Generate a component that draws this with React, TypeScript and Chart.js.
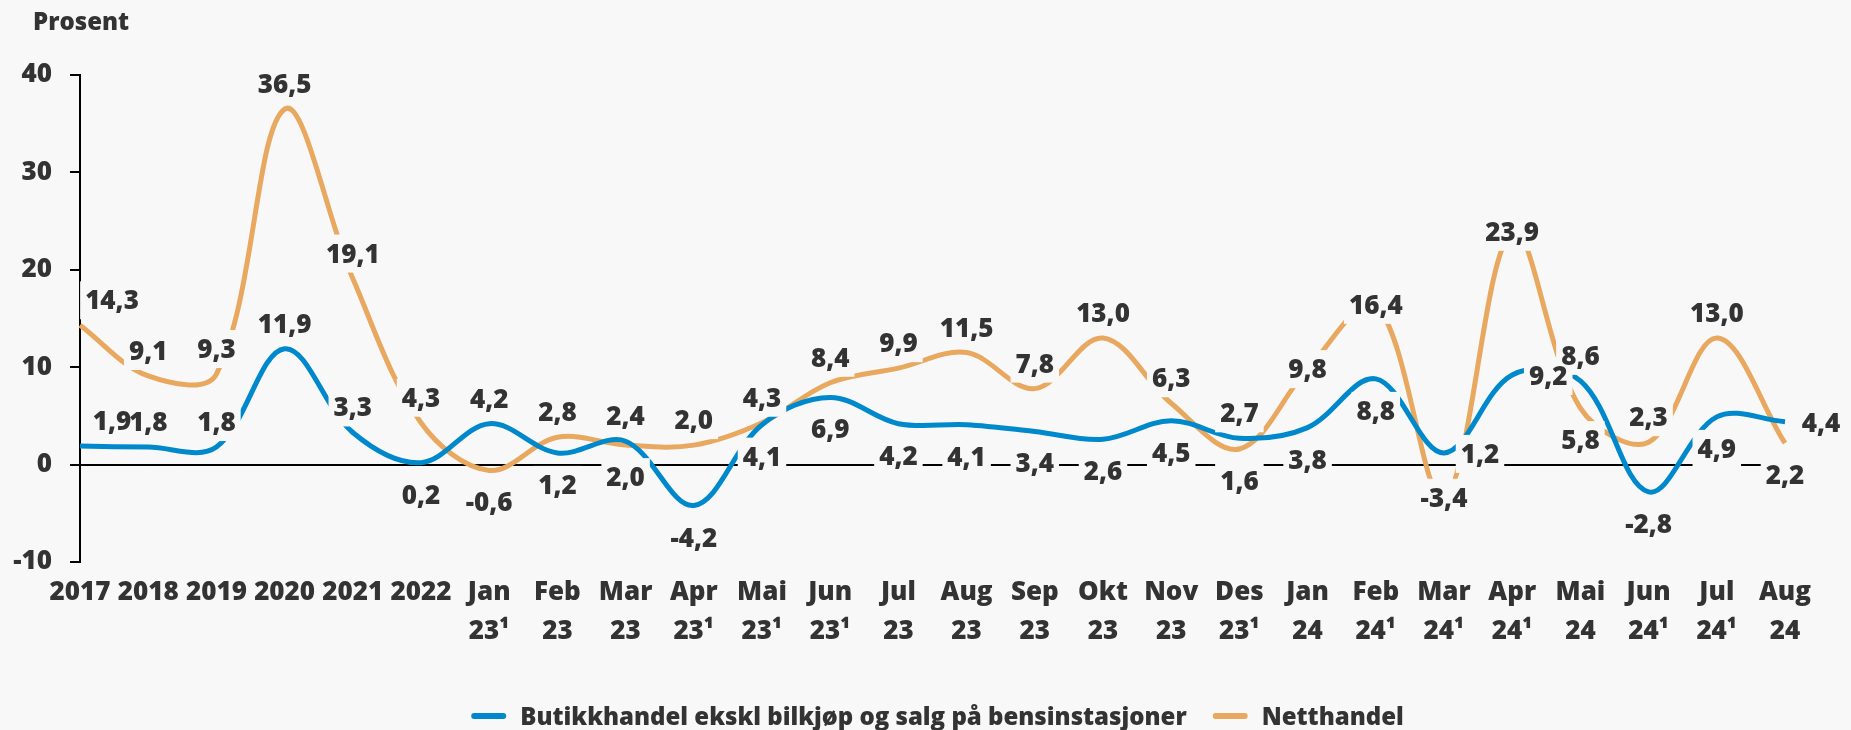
import React, { useEffect, useRef } from 'react';
import { Chart, registerables } from 'chart.js';

Chart.register(...registerables);

const CATEGORIES = ['2017', '2018', '2019', '2020', '2021', '2022', 'Jan 23¹', 'Feb 23', 'Mar 23', 'Apr 23¹', 'Mai 23¹', 'Jun 23¹', 'Jul 23', 'Aug 23', 'Sep 23', 'Okt 23', 'Nov 23', 'Des 23¹', 'Jan 24', 'Feb 24¹', 'Mar 24¹', 'Apr 24¹', 'Mai 24', 'Jun 24¹', 'Jul 24¹', 'Aug 24'];

const BUTIKK = [1.9, 1.8, 1.8, 11.9, 3.3, 0.2, 4.2, 1.2, 2.4, -4.2, 4.1, 6.9, 4.2, 4.1, 3.4, 2.6, 4.5, 2.7, 3.8, 8.8, 1.2, 9.2, 8.6, -2.8, 4.9, 4.4];
const NETT = [14.3, 9.1, 9.3, 36.5, 19.1, 4.3, -0.6, 2.8, 2.0, 2.0, 4.3, 8.4, 9.9, 11.5, 7.8, 13.0, 6.3, 1.6, 9.8, 16.4, -3.4, 23.9, 5.8, 2.3, 13.0, 2.2];

const SERIES_NAMES = ['Butikkhandel ekskl bilkjøp og salg på bensinstasjoner', 'Netthandel'];
const Y_MIN = -10;
const Y_MAX = 40;
const Y_STEP = 10;
const Y_TITLE = 'Prosent';

// label placement (style): t = above, b = below, c = on point, r = right, tr = above-right
const BUTIKK_POS = ['tr', 't', 't', 't', 't', 'b', 't', 'b', 't', 'b', 'b', 'b', 'b', 'b', 'b', 'b', 'b', 't', 'b', 'b', 'r', 'r', 't', 'b', 'b', 'r'];
const NETT_POS = ['tr', 't', 't', 't', 't', 't', 'b', 't', 'b', 't', 't', 't', 't', 't', 't', 't', 't', 'b', 'c', 'c', 'c', 'c', 'b', 't', 't', 'b'];

const BG = '#f8f8f8';
const TEXT = '#333333';
const BLUE = '#0088cc';
const ORANGE = '#e9a85f';
const FONT = '"Open Sans", "Noto Sans", sans-serif';
const FS = 26;
const FW = '800';

const OFFSETS: Record<string, [number, number]> = {
  t: [0, -25],
  b: [0, 32],
  c: [0, 0],
  r: [36, 1],
  tr: [32, -25],
};

const fmt = (v: number) => v.toFixed(1).replace('.', ',');

const decorPlugin = {
  id: 'decor',
  afterDatasetsDraw(chart: any) {
    const ctx = chart.ctx;
    ctx.save();
    ctx.font = `${FW} ${FS}px ${FONT}`;
    ctx.textAlign = 'center';
    ctx.textBaseline = 'alphabetic';
    const sets = [
      { vals: BUTIKK, pos: BUTIKK_POS },
      { vals: NETT, pos: NETT_POS },
    ];
    const items: { x: number; y: number; text: string; w: number }[] = [];
    sets.forEach((s, di) => {
      const meta = chart.getDatasetMeta(di);
      meta.data.forEach((pt: any, i: number) => {
        const [dx, dy] = OFFSETS[s.pos[i]];
        const text = fmt(s.vals[i]);
        const w = ctx.measureText(text).width;
        items.push({ x: pt.x + dx, y: pt.y + dy, text, w });
      });
    });
    ctx.fillStyle = BG;
    items.forEach((it) => ctx.fillRect(it.x - it.w / 2 - 5, it.y - 19, it.w + 10, 38));
    ctx.fillStyle = TEXT;
    items.forEach((it) => ctx.fillText(it.text, it.x, it.y + 9));
    ctx.restore();
  },
  afterDraw(chart: any) {
    const ctx = chart.ctx;
    ctx.save();
    ctx.font = `${FW} ${FS - 2}px ${FONT}`;
    ctx.fillStyle = TEXT;
    ctx.textAlign = 'left';
    ctx.textBaseline = 'alphabetic';
    ctx.fillText(Y_TITLE, 33, 30);

    // legend
    ctx.font = `${FW} ${FS - 2}px ${FONT}`;
    const sw = 35;
    const gap = 14;
    const between = 26;
    const colors = [BLUE, ORANGE];
    const widths = SERIES_NAMES.map((n) => ctx.measureText(n).width);
    const total = widths.reduce((a, w) => a + sw + gap + w, 0) + between;
    const area = chart.chartArea;
    let x = (area.left + area.right) / 2 - total / 2 + 5;
    const yc = 716;
    SERIES_NAMES.forEach((n, i) => {
      ctx.strokeStyle = colors[i];
      ctx.lineWidth = 6;
      ctx.lineCap = 'round';
      ctx.beginPath();
      ctx.moveTo(x + 3, yc);
      ctx.lineTo(x + sw - 3, yc);
      ctx.stroke();
      x += sw + gap;
      ctx.fillText(n, x, yc + 9);
      x += widths[i] + between;
    });
    ctx.restore();
  },
};

export default function App() {
  const ref = useRef<HTMLCanvasElement | null>(null);

  useEffect(() => {
    document.body.style.margin = '0';
    document.body.style.background = BG;
    if (!ref.current) return;
    const chart = new Chart(ref.current, {
      type: 'line',
      data: {
        labels: CATEGORIES.map((c) => c.split(' ')),
        datasets: [
          {
            label: SERIES_NAMES[0],
            data: BUTIKK,
            borderColor: BLUE,
            borderWidth: 5,
            pointRadius: 0,
            tension: 0.35,
            fill: false,
          },
          {
            label: SERIES_NAMES[1],
            data: NETT,
            borderColor: ORANGE,
            borderWidth: 5,
            pointRadius: 0,
            tension: 0.35,
            fill: false,
          },
        ],
      },
      options: {
        responsive: false,
        animation: false,
        layout: { padding: { top: 75, right: 66, left: 0, bottom: 0 } },
        plugins: {
          legend: { display: false },
          tooltip: { enabled: false },
          title: { display: false },
        },
        scales: {
          x: {
            offset: false,
            grid: { display: false },
            border: { display: false },
            ticks: {
              autoSkip: false,
              maxRotation: 0,
              color: TEXT,
              padding: 3,
              font: { family: FONT, size: FS, weight: FW, lineHeight: 1.5 },
            },
            afterFit: (s: any) => {
              s.height = 168;
            },
          },
          y: {
            min: Y_MIN,
            max: Y_MAX,
            ticks: {
              stepSize: Y_STEP,
              color: TEXT,
              padding: 18,
              font: { family: FONT, size: FS, weight: FW },
            },
            border: { display: true, color: '#000', width: 2 },
            grid: {
              drawOnChartArea: true,
              drawTicks: true,
              tickLength: 10,
              tickColor: '#000',
              tickWidth: 2,
              lineWidth: 2,
              color: (c: any) => (c.tick && c.tick.value === 0 ? '#000' : 'rgba(0,0,0,0)'),
            },
            afterFit: (s: any) => {
              s.width = 80;
            },
          },
        },
      },
      plugins: [decorPlugin],
    });
    return () => chart.destroy();
  }, []);

  return (
    <div style={{ width: 1851, height: 730, background: BG }}>
      <canvas ref={ref} width={1851} height={730} style={{ display: 'block' }} />
    </div>
  );
}
